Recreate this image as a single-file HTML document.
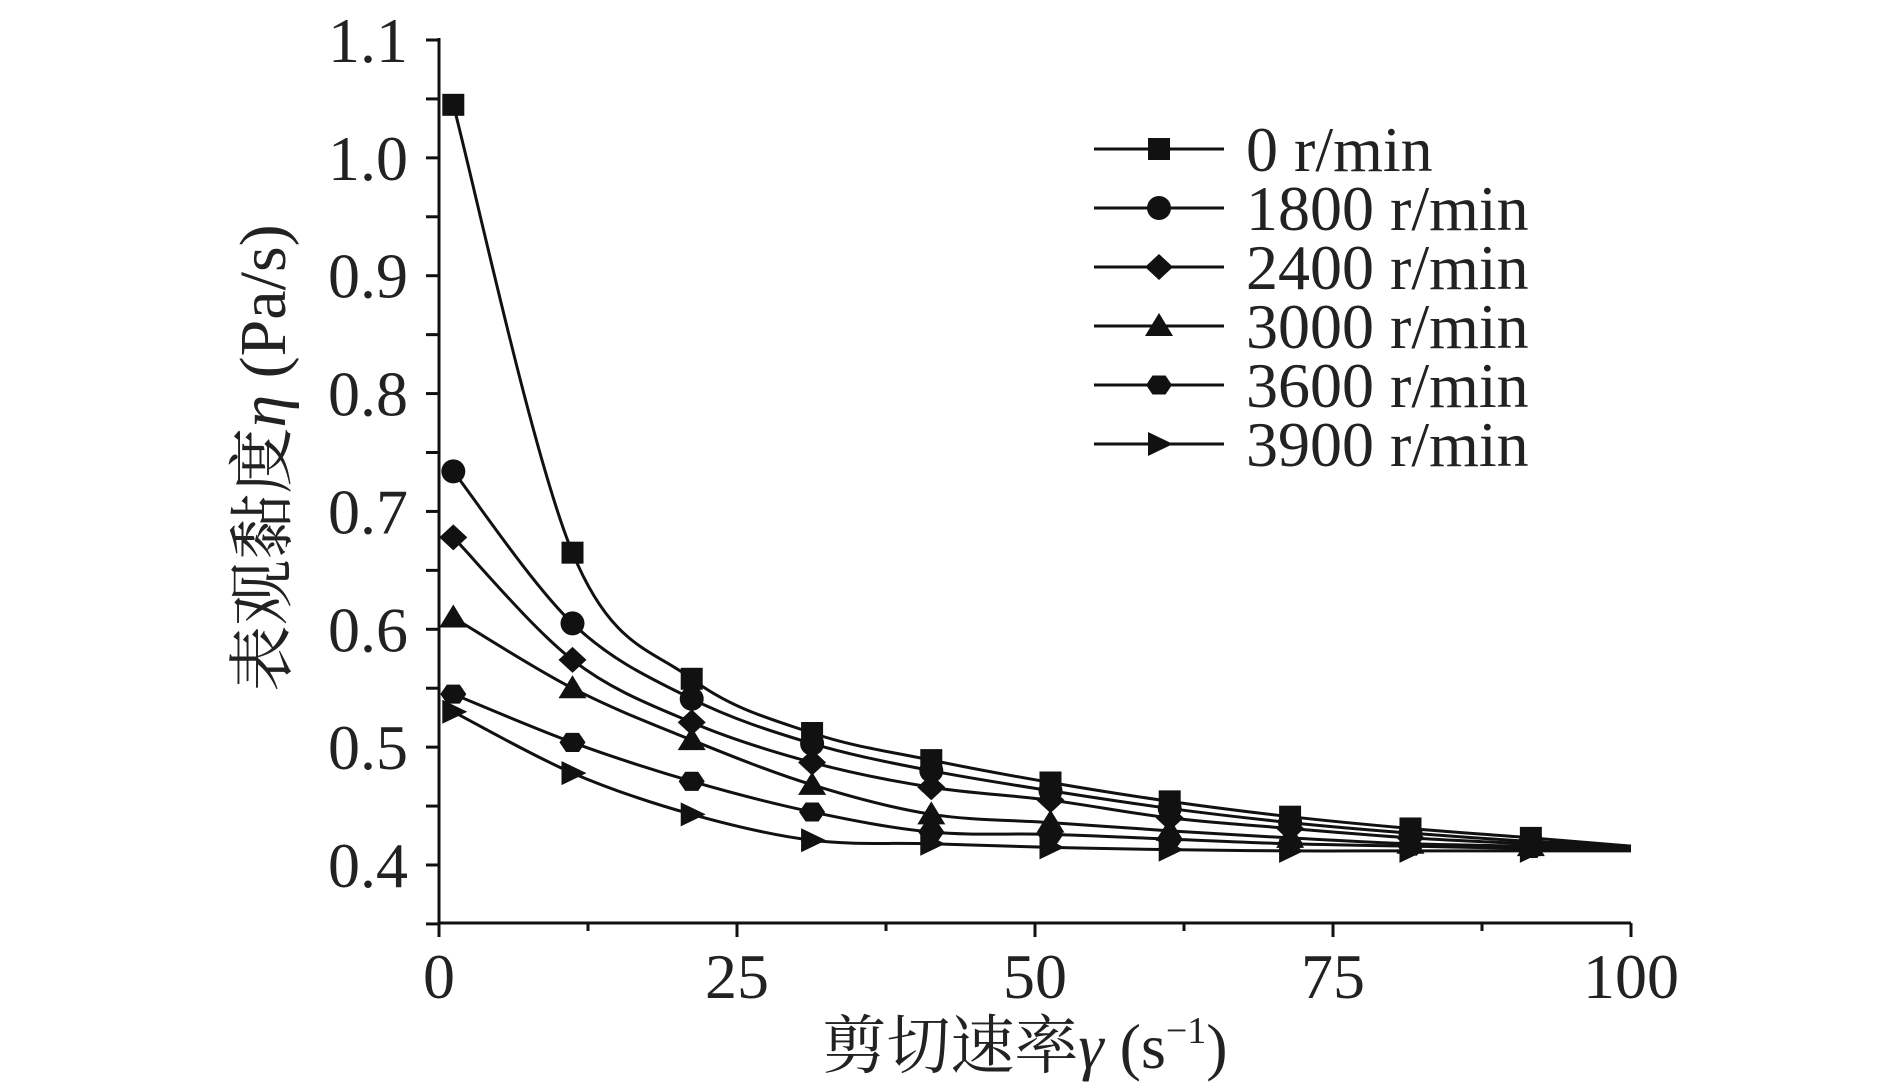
<!DOCTYPE html>
<html><head><meta charset="utf-8"><style>
html,body{margin:0;padding:0;background:#fff;}
svg{display:block;}
text{font-family:"Liberation Serif","Noto Serif CJK SC",serif;fill:#222;}
</style></head><body>
<svg id="chart" width="1890" height="1088" viewBox="0 0 1890 1088" xmlns="http://www.w3.org/2000/svg">
<g id="axes"></g>
<g id="series"></g>
<g id="legend"></g>
<text x="1025" y="1068" font-size="64" text-anchor="middle">剪切速率<tspan font-style="italic">γ</tspan> (s<tspan dy="-25" font-size="38">−1</tspan><tspan dy="25">)</tspan></text>
<text transform="translate(285,458) rotate(-90)" font-size="66" text-anchor="middle">表观黏度<tspan font-style="italic">η</tspan> (Pa/s)</text>
</svg>
<script>
const xValues = [1.2, 11.2, 21.2, 31.3, 41.3, 51.3, 61.3, 71.4, 81.5, 91.6, 100];
const seriesNames = ["0 r/min","1800 r/min","2400 r/min","3000 r/min","3600 r/min","3900 r/min"];
const s0 = [1.045,0.665,0.558,0.512,0.489,0.470,0.454,0.441,0.431,0.423,0.416];
const s1800 = [0.734,0.605,0.541,0.503,0.480,0.463,0.448,0.436,0.427,0.420,0.416];
const s2400 = [0.678,0.574,0.521,0.487,0.466,0.455,0.440,0.431,0.423,0.418,0.415];
const s3000 = [0.610,0.550,0.506,0.468,0.443,0.436,0.429,0.423,0.418,0.416,0.414];
const s3600 = [0.545,0.504,0.471,0.445,0.428,0.426,0.422,0.418,0.416,0.414,0.413];
const s3900 = [0.530,0.478,0.443,0.421,0.418,0.415,0.413,0.412,0.412,0.412,0.412];
const markers = ["square","circle","diamond","triangle","hexagon","right"];
const xTicks = [0,25,50,75,100];
const yTicks = [0.4,0.5,0.6,0.7,0.8,0.9,1.0,1.1];
const allSeries = [s0,s1800,s2400,s3000,s3600,s3900];

const NS="http://www.w3.org/2000/svg";
const X0=439,X1=1631,YB=923,YT=38;
const xs=v=>X0+(v/100)*(X1-X0);
const ys=v=>865-(v-0.4)*(825/0.7);
function mk(tag,attrs,parent){const e=document.createElementNS(NS,tag);for(const k in attrs)e.setAttribute(k,attrs[k]);parent.appendChild(e);return e;}
const axes=document.getElementById('axes');
let a=mk('line',{x1:X0,y1:YB,x2:X0,y2:YT,stroke:'#111','stroke-width':3},axes);


a=mk('line',{x1:X0-1,y1:YB,x2:X1,y2:YB,stroke:'#111','stroke-width':3},axes);


for(let v=0.35;v<=1.101;v+=0.05){const t=mk('line',{x1:X0-13,x2:X0,y1:ys(v),y2:ys(v),stroke:'#111','stroke-width':3},axes);

}
yTicks.forEach(v=>{const t=mk('text',{x:408,y:ys(v)+22,'font-size':64,'text-anchor':'end'},axes);t.textContent=v.toFixed(1);

});
for(let v=0;v<=100;v+=12.5){const major=(v%25===0);const t=mk('line',{x1:xs(v),x2:xs(v),y1:YB,y2:YB+(major?14:8),stroke:'#111','stroke-width':3},axes);

}
xTicks.forEach(v=>{const t=mk('text',{x:xs(v),y:998,'font-size':64,'text-anchor':'middle'},axes);t.textContent=v;

});

function marker(type,cx,cy,parent){const r=11;let e;
if(type==='square')e=mk('rect',{x:cx-r,y:cy-r,width:2*r,height:2*r},parent);
else if(type==='circle')e=mk('circle',{cx,cy,r:r+1},parent);
else if(type==='diamond')e=mk('polygon',{points:`${cx},${cy-r-2} ${cx+r+3},${cy} ${cx},${cy+r+2} ${cx-r-3},${cy}`},parent);
else if(type==='triangle')e=mk('polygon',{points:`${cx},${cy-r-2} ${cx+r+3},${cy+r-1} ${cx-r-3},${cy+r-1}`},parent);
else if(type==='hexagon'){const p=[];for(let i=0;i<6;i++){const an=Math.PI/3*i;p.push((cx+(r+2)*Math.cos(an))+','+(cy+(r)*Math.sin(an)));}e=mk('polygon',{points:p.join(' ')},parent);}
else e=mk('polygon',{points:`${cx-r},${cy-r-1} ${cx+r+3},${cy} ${cx-r},${cy+r+1}`},parent);
e.setAttribute('fill','#111');return e;}

function curve(pts){let d=`M${pts[0][0]},${pts[0][1]}`;for(let i=0;i<pts.length-1;i++){const p0=pts[Math.max(0,i-1)],p1=pts[i],p2=pts[i+1],p3=pts[Math.min(pts.length-1,i+2)];const c1=[p1[0]+(p2[0]-p0[0])/6,p1[1]+(p2[1]-p0[1])/6],c2=[p2[0]-(p3[0]-p1[0])/6,p2[1]-(p3[1]-p1[1])/6];d+=` C${c1[0]},${c1[1]} ${c2[0]},${c2[1]} ${p2[0]},${p2[1]}`;}return d;}
const sg=document.getElementById('series');
allSeries.forEach((s,si)=>{const g=mk('g',{},sg);


const pts=s.map((v,i)=>[xs(xValues[i]),ys(v)]);
const p=mk('path',{d:curve(pts),fill:'none',stroke:'#111','stroke-width':3},g);


for(let i=0;i<s.length-1;i++){const m=marker(markers[si],pts[i][0],pts[i][1],g);

}});

const lg=document.getElementById('legend');
seriesNames.forEach((n,i)=>{const y=149+i*59;const g=mk('g',{},lg);


mk('line',{x1:1094,x2:1224,y1:y,y2:y,stroke:'#111','stroke-width':3},g);
marker(markers[i],1159,y,g);
const t=mk('text',{x:1246,y:y+22,'font-size':64},g);t.textContent=n;});
</script>
</body></html>
